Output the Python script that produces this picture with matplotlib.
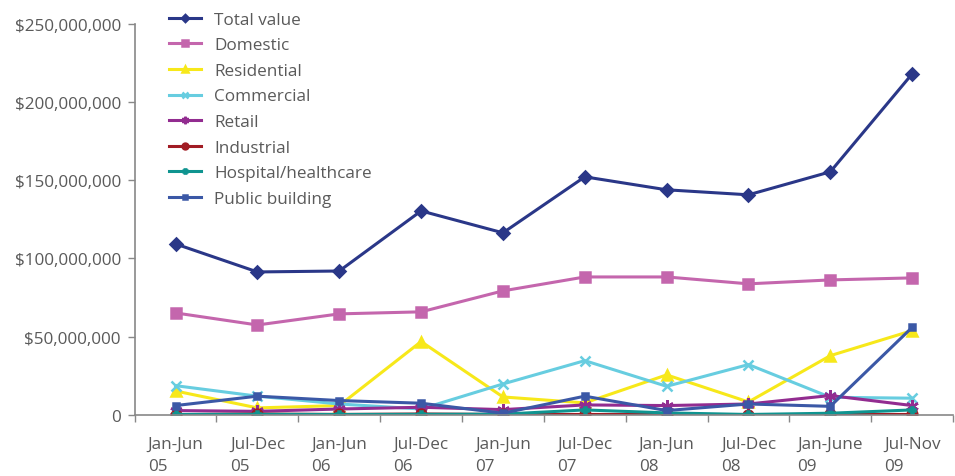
import matplotlib

matplotlib.use("Agg")
import matplotlib.pyplot as plt
from matplotlib.ticker import FixedLocator, FuncFormatter

periods = ["Jan-Jun\n05", "Jul-Dec\n05", "Jan-Jun\n06", "Jul-Dec\n06", "Jan-Jun\n07",
           "Jul-Dec\n07", "Jan-Jun\n08", "Jul-Dec\n08", "Jan-June\n09", "Jul-Nov\n09"]

# values in $ millions
total = [109.3, 91.4, 92.0, 130.4, 116.4, 152.2, 143.9, 140.7, 155.4, 218.0]
domestic = [65.2, 57.5, 64.6, 65.9, 79.3, 88.2, 88.2, 83.8, 86.3, 87.6]
residential = [15.3, 4.5, 6.0, 46.9, 11.5, 7.7, 25.6, 8.3, 37.9, 53.9]
commercial = [18.7, 12.0, 7.0, 3.8, 19.8, 34.7, 18.3, 32.2, 11.3, 10.7]
retail = [2.8, 2.3, 3.8, 4.9, 3.4, 6.4, 6.0, 7.0, 12.4, 6.0]
industrial = [0.2, 0.6, 0.3, 0.6, 0.3, 0.3, 0.3, 0.2, 0.3, 0.3]
hospital = [0.3, 0.4, 0.3, 0.4, 0.5, 3.2, 1.3, 0.3, 1.1, 3.2]
public_building = [6.0, 12.0, 9.2, 7.5, 1.1, 12.0, 2.8, 7.0, 5.5, 56.0]

series = [
    ("Total value", total, "#2a3788", "D", 6),
    ("Domestic", domestic, "#c466ad", "s", 7),
    ("Residential", residential, "#f7e81a", "^", 7),
    ("Commercial", commercial, "#67cde0", "x", 7),
    ("Retail", retail, "#922c90", (6, 2, 0), 9),
    ("Industrial", industrial, "#a11c24", "o", 7),
    ("Hospital/healthcare", hospital, "#0f9490", "P", 5),
    ("Public building", public_building, "#3b58a6", "s", 4),
]

plt.rcParams["font.family"] = ["Open Sans", "DejaVu Sans"]
grey = "#5a5a5a"

fig = plt.figure(figsize=(9.55, 4.77), dpi=100)
ax = fig.add_axes([0.141, 0.128, 0.857, 0.82])

x = list(range(len(periods)))
for name, vals, color, marker, ms in series:
    ax.plot(x, [v * 1e6 for v in vals], color=color, lw=2.2, marker=marker,
            ms=ms, mew=1.8, label=name)

ax.set_xlim(-0.5, len(periods) - 0.5)
ax.set_ylim(0, 250e6)
ax.set_yticks([0, 50e6, 100e6, 150e6, 200e6, 250e6])
ax.yaxis.set_major_formatter(FuncFormatter(lambda v, p: "0" if v == 0 else f"${v:,.0f}"))

ax.set_xticks(x)
ax.set_xticklabels(periods, ha="center", multialignment="left", linespacing=1.55)
ax.tick_params(axis="x", which="major", length=0, pad=15)
ax.xaxis.set_minor_locator(FixedLocator([i - 0.5 for i in range(len(periods) + 1)]))
ax.tick_params(axis="x", which="minor", length=5, color="#888888", width=1)
ax.tick_params(axis="y", length=5, color="#888888", width=1, pad=5)
ax.tick_params(labelsize=12.3, labelcolor=grey)

for side in ("top", "right"):
    ax.spines[side].set_visible(False)
for side in ("left", "bottom"):
    ax.spines[side].set_color("#888888")
    ax.spines[side].set_linewidth(1.2)

leg = ax.legend(loc="upper left", bbox_to_anchor=(0.023, 1.07), frameon=False,
                fontsize=12.3, handlelength=1.9, labelspacing=0.56,
                handletextpad=0.75, markerscale=0.6)
for t in leg.get_texts():
    t.set_color(grey)

fig.savefig("out.png", dpi=100)
